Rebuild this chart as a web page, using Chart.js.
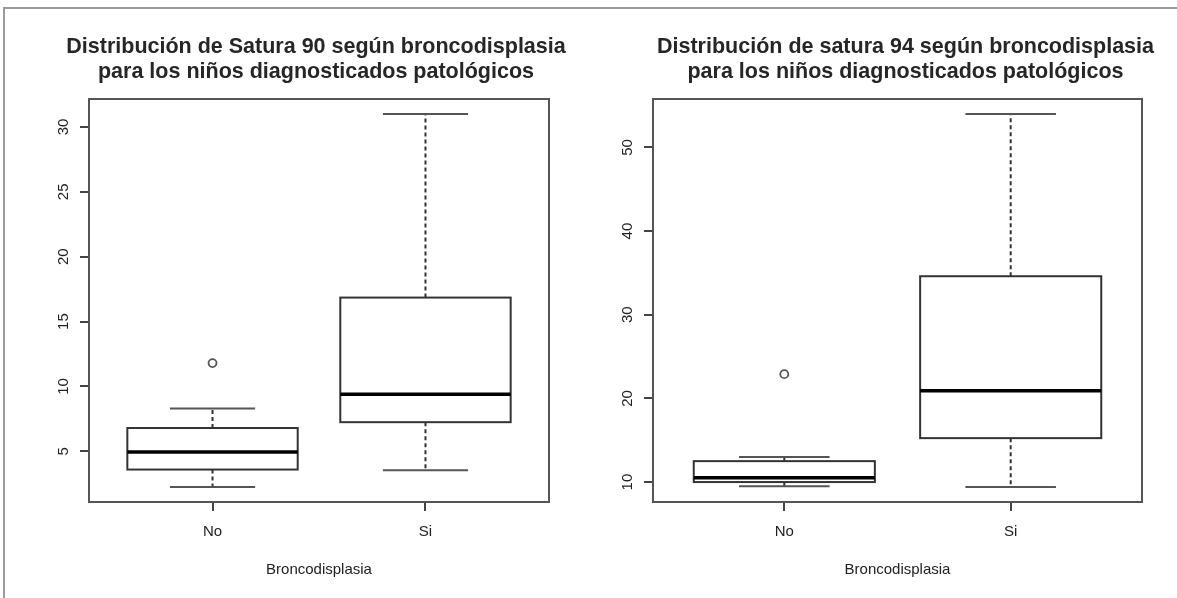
<!DOCTYPE html>
<html>
<head>
<meta charset="utf-8">
<script src="https://cdn.jsdelivr.net/npm/chart.js@4/dist/chart.umd.min.js"></script>
<style>
  body { margin: 0; background: #fff; width: 1177px; height: 598px; overflow: hidden; position: relative; }
  #frame { position: absolute; left: 3px; top: 7px; width: 1200px; height: 620px; border-left: 2px solid #9a9a9a; border-top: 2px solid #9a9a9a; }
  .panel { position: absolute; top: 0; height: 598px; }
</style>
</head>
<body>
<div id="frame"></div>
<div class="panel" style="left:0; width:590px;"><canvas id="sat90"></canvas></div>
<div class="panel" style="left:590px; width:587px;"><canvas id="sat94"></canvas></div>
<script>
var categories = ["No", "Si"];

// Satura 90
var s90Low = [2.25, 3.55];
var s90Q1 = [3.6, 7.25];
var s90Median = [4.95, 9.4];
var s90Q3 = [6.8, 16.85];
var s90High = [8.3, 31.0];
var s90Outliers = [[11.8], []];
var s90Ticks = [5, 10, 15, 20, 25, 30];

// satura 94
var s94Low = [9.5, 9.4];
var s94Q1 = [10.0, 15.25];
var s94Median = [10.5, 20.9];
var s94Q3 = [12.5, 34.6];
var s94High = [13.0, 54.0];
var s94Outliers = [[22.9], []];
var s94Ticks = [10, 20, 30, 40, 50];

var FONT = "'Liberation Sans', Arial, sans-serif";

// draws boxes, medians, whiskers and the plot frame from the scales
var boxPlot = {
  id: "boxPlot",
  beforeDatasetsDraw: function (chart, args, o) {
    var ctx = chart.ctx, x = chart.scales.x, y = chart.scales.y, a = chart.chartArea;
    ctx.save();
    for (var i = 0; i < categories.length; i++) {
      var cx = x.getPixelForValue(i + 1);
      var hw = x.getPixelForValue(i + 1.4) - cx;
      var yLo = y.getPixelForValue(o.low[i]), yHi = y.getPixelForValue(o.high[i]);
      var y1 = y.getPixelForValue(o.q1[i]), y3 = y.getPixelForValue(o.q3[i]);
      var ym = y.getPixelForValue(o.median[i]);
      // whiskers
      ctx.strokeStyle = "#333";
      ctx.lineWidth = 2;
      ctx.setLineDash([4, 3]);
      ctx.beginPath();
      ctx.moveTo(cx, y3); ctx.lineTo(cx, yHi);
      ctx.moveTo(cx, y1); ctx.lineTo(cx, yLo);
      ctx.stroke();
      ctx.setLineDash([]);
      // staples
      ctx.strokeStyle = "#555";
      ctx.beginPath();
      ctx.moveTo(cx - hw / 2, yHi); ctx.lineTo(cx + hw / 2, yHi);
      ctx.moveTo(cx - hw / 2, yLo); ctx.lineTo(cx + hw / 2, yLo);
      ctx.stroke();
      // box
      ctx.fillStyle = "#fff";
      ctx.fillRect(cx - hw, y3, hw * 2, y1 - y3);
      ctx.strokeStyle = "#333";
      ctx.lineWidth = 2;
      ctx.strokeRect(cx - hw, y3, hw * 2, y1 - y3);
      // median
      ctx.strokeStyle = "#000";
      ctx.lineWidth = 3.5;
      ctx.beginPath();
      ctx.moveTo(cx - hw, ym); ctx.lineTo(cx + hw, ym);
      ctx.stroke();
    }
    ctx.strokeStyle = "#555";
    ctx.lineWidth = 2;
    ctx.strokeRect(a.left, a.top, a.right - a.left, a.bottom - a.top);
    ctx.restore();
  }
};

// R style main title, centred over the plot region and not squeezed to its width
var mainTitle = {
  id: "mainTitle",
  afterDraw: function (chart, args, o) {
    var ctx = chart.ctx, a = chart.chartArea;
    var cx = (a.left + a.right) / 2 + o.shift;
    ctx.save();
    ctx.fillStyle = "#262626";
    ctx.font = "bold 21.5px " + FONT;
    ctx.textAlign = "center";
    ctx.textBaseline = "middle";
    o.lines.forEach(function (t, i) { ctx.fillText(t, cx, 47 + i * 25); });
    ctx.restore();
  }
};

function makeChart(id, title, low, q1, median, q3, high, outliers, ticks, yWidth, padRight, shift) {
  var all = low.concat(high);
  outliers.forEach(function (o) { all = all.concat(o); });
  var lo = Math.min.apply(null, all), hi = Math.max.apply(null, all);
  var ext = (hi - lo) * 0.04;
  var pts = [];
  outliers.forEach(function (o, i) {
    o.forEach(function (v) { pts.push({ x: i + 1, y: v }); });
  });

  return new Chart(id, {
    type: "scatter",
    data: {
      datasets: [{
        data: pts,
        pointStyle: "circle",
        pointRadius: 4,
        pointBorderWidth: 1.8,
        pointBorderColor: "#555",
        pointBackgroundColor: "rgba(0,0,0,0)"
      }]
    },
    options: {
      responsive: true,
      maintainAspectRatio: false,
      animation: false,
      layout: { padding: { left: 0, right: padRight, top: 99, bottom: 0 } },
      plugins: {
        legend: { display: false },
        tooltip: { enabled: false },
        title: { display: false },
        mainTitle: { lines: title, shift: shift },
        boxPlot: { low: low, q1: q1, median: median, q3: q3, high: high }
      },
      scales: {
        x: {
          type: "linear",
          min: 0.42,
          max: 2.58,
          afterBuildTicks: function (s) { s.ticks = [{ value: 1 }, { value: 2 }]; },
          afterFit: function (s) { s.height = 96; },
          border: { display: false },
          grid: { drawOnChartArea: false, drawTicks: true, tickLength: 9, color: "#444", lineWidth: 2 },
          ticks: {
            padding: 12,
            color: "#222",
            font: { family: FONT, size: 15 },
            callback: function (v) { return categories[v - 1]; }
          },
          title: {
            display: true,
            text: "Broncodisplasia",
            color: "#222",
            font: { family: FONT, size: 15 },
            padding: { top: 0, bottom: 19 }
          }
        },
        y: {
          min: lo - ext,
          max: hi + ext,
          afterBuildTicks: function (s) { s.ticks = ticks.map(function (v) { return { value: v }; }); },
          afterFit: function (s) { s.width = yWidth; },
          border: { display: false },
          grid: { drawOnChartArea: false, drawTicks: true, tickLength: 9, color: "#444", lineWidth: 2 },
          ticks: {
            minRotation: 90,
            maxRotation: 90,
            crossAlign: "center",
            padding: 8,
            color: "#222",
            font: { family: FONT, size: 15 }
          }
        }
      }
    },
    plugins: [boxPlot, mainTitle]
  });
}

makeChart("sat90",
  ["Distribución de Satura 90 según broncodisplasia", "para los niños diagnosticados patológicos"],
  s90Low, s90Q1, s90Median, s90Q3, s90High, s90Outliers, s90Ticks, 89, 41, -3);

makeChart("sat94",
  ["Distribución de satura 94 según broncodisplasia", "para los niños diagnosticados patológicos"],
  s94Low, s94Q1, s94Median, s94Q3, s94High, s94Outliers, s94Ticks, 63, 35, 8);
</script>
</body>
</html>
